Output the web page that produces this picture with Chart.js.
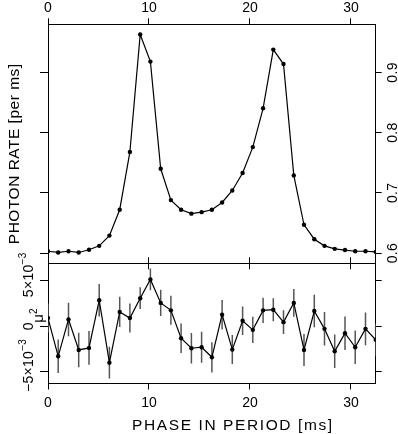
<!DOCTYPE html>
<html><head><meta charset="utf-8">
<script src="https://cdn.jsdelivr.net/npm/chart.js@4"></script>
<style>
html,body{margin:0;padding:0;background:#fff;width:398px;height:434px;overflow:hidden}
#wrap{position:relative;width:398px;height:434px}
canvas{position:absolute;left:0}
#cTop{top:0}
#cBot{top:245px}
</style></head><body>
<div id="wrap">
<canvas id="cTop" width="398" height="275"></canvas>
<canvas id="cBot" width="398" height="189"></canvas>
</div>
<script>
const phase = [0, 1.01, 2.03, 3.04, 4.06, 5.07, 6.08, 7.10, 8.11, 9.13, 10.14, 11.16, 12.17, 13.18, 14.20, 15.21, 16.23, 17.24, 18.25, 19.27, 20.28, 21.30, 22.31, 23.32, 24.34, 25.35, 26.37, 27.38, 28.39, 29.41, 30.42, 31.44, 32.45];
const photonRate = [0.603, 0.601, 0.603, 0.601, 0.6055, 0.612, 0.629, 0.672, 0.768, 0.963, 0.918, 0.740, 0.688, 0.672, 0.6655, 0.668, 0.672, 0.684, 0.704, 0.733, 0.776, 0.8405, 0.938, 0.914, 0.729, 0.647, 0.623, 0.612, 0.607, 0.605, 0.603, 0.603, 0.602];
// mu^2 in units of 10^-3
const muSq = [0.89, -3.33, 0.74, -2.63, -2.40, 2.86, -4.03, 1.56, 0.89, 3.08, 5.15, 2.56, 1.74, -1.33, -2.44, -2.33, -3.44, 1.26, -2.59, 0.60, -0.41, 1.74, 1.81, 0.44, 2.56, -2.63, 1.67, -0.30, -2.78, -0.78, -2.33, -0.30, -1.51];
const muErr = [1.6, 1.85, 1.85, 1.9, 1.85, 1.8, 1.76, 1.67, 1.6, 1.2, 1.2, 1.45, 1.6, 1.63, 1.68, 1.7, 1.67, 1.63, 1.6, 1.57, 1.45, 1.39, 1.26, 1.3, 1.54, 1.76, 1.8, 1.85, 1.85, 1.85, 1.85, 1.8, 1.8];
const phaseTicks = [0, 10, 20, 30];
const phaseTickLabels = ['0', '10', '20', '30'];
const rateTicks = [0.6, 0.7, 0.8, 0.9];
const rateTickLabels = ['0.6', '0.7', '0.8', '0.9'];
const muTicks = [-5, 0, 5];
const muTickBase = ['\u22125\u00d710', '0', '5\u00d710'];
const muTickExp = ['\u22123', '', '\u22123'];
const xTitle = 'PHASE IN PERIOD [ms]';
const yTopTitle = 'PHOTON RATE [per ms]';
const yBotTitleBase = '\u03bc';
const yBotTitleExp = '2';

const FONT = '"Liberation Sans", Arial, Helvetica, sans-serif';
const fixH = h => s => { s.height = h; };
const fixW = w => s => { s.width = w; };
const setTicks = vals => s => { s.ticks = vals.map(v => ({value: v})); };

function axis(o) {
  return {
    type: 'linear',
    axis: o.axis,
    position: o.position,
    min: o.min, max: o.max,
    border: {display: true, color: '#000', width: 1},
    grid: {display: true, drawOnChartArea: false, drawTicks: true, tickLength: o.tickLength || 6, color: '#000', lineWidth: 1},
    ticks: {
      display: !!o.labels, autoSkip: false, color: '#000',
      font: {family: FONT, size: 14},
      padding: o.padding || 0,
      callback: o.labels ? ((v, i) => o.labels[i]) : undefined
    },
    afterBuildTicks: setTicks(o.ticks),
    afterFit: o.axis === 'x' ? fixH(o.size) : fixW(o.size)
  };
}

// draw text rotated by -90deg (reads bottom to top); (x,y) = baseline x, anchor y
function rotText(ctx, text, x, y, size, align, spacing) {
  ctx.save();
  ctx.translate(x, y);
  ctx.rotate(-Math.PI / 2);
  ctx.font = size + 'px ' + FONT;
  ctx.letterSpacing = (spacing || 0) + 'px';
  ctx.textAlign = align || 'center';
  ctx.textBaseline = 'alphabetic';
  ctx.fillStyle = '#000';
  ctx.fillText(text, 0, 0);
  ctx.restore();
}

const common = {
  responsive: false, animation: false, events: [],
  plugins: {legend: {display: false}, tooltip: {enabled: false}},
  layout: {padding: 0}
};

const XMIN = 0, XMAX = 32.45;

const topLabels = {
  id: 'topLabels',
  afterDraw(chart) {
    const ctx = chart.ctx, a = chart.chartArea;
    const yr = chart.scales.yR;
    yr.ticks.forEach((t, i) => {
      rotText(ctx, rateTickLabels[i], yr.left + 21, yr.getPixelForValue(t.value), 14, 'center', 0.3);
    });
    rotText(ctx, yTopTitle, 19, (a.top + a.bottom) / 2 + 10, 15.5, 'center', 0.5);
  }
};

new Chart(document.getElementById('cTop'), {
  type: 'line',
  data: {datasets: [{
    data: phase.map((p, i) => ({x: p, y: photonRate[i]})),
    xAxisID: 'x', yAxisID: 'y',
    borderColor: '#000', borderWidth: 1.2, tension: 0,
    pointRadius: 2.2, pointBackgroundColor: '#000', pointBorderWidth: 0
  }]},
  plugins: [topLabels],
  options: Object.assign({}, common, {
    scales: {
      x: axis({axis: 'x', position: 'bottom', min: XMIN, max: XMAX, ticks: phaseTicks, size: 11.7}),
      xTop: axis({axis: 'x', position: 'top', min: XMIN, max: XMAX, ticks: phaseTicks, labels: phaseTickLabels, padding: 2, size: 24.3}),
      y: axis({axis: 'y', position: 'left', min: 0.583, max: 0.98, ticks: rateTicks, size: 48, tickLength: 8}),
      yR: axis({axis: 'y', position: 'right', min: 0.583, max: 0.98, ticks: rateTicks, size: 22.3})
    }
  })
});

const errorBars = {
  id: 'errorBars',
  beforeDatasetsDraw(chart) {
    const {ctx, chartArea: a} = chart;
    const xs = chart.scales.x, ys = chart.scales.y;
    ctx.save();
    ctx.beginPath(); ctx.rect(a.left, a.top, a.right - a.left, a.bottom - a.top); ctx.clip();
    ctx.strokeStyle = '#555'; ctx.lineWidth = 1.5;
    ctx.beginPath();
    phase.forEach((p, i) => {
      const px = xs.getPixelForValue(p);
      ctx.moveTo(px, ys.getPixelForValue(muSq[i] - muErr[i]));
      ctx.lineTo(px, ys.getPixelForValue(muSq[i] + muErr[i]));
    });
    ctx.stroke();
    ctx.restore();
  }
};

const botLabels = {
  id: 'botLabels',
  afterDraw(chart) {
    const ctx = chart.ctx, a = chart.chartArea;
    const ys = chart.scales.y;
    ys.ticks.forEach((t, i) => {
      const py = ys.getPixelForValue(t.value);
      rotText(ctx, muTickBase[i], 33, py, 14, 'center', 0.3);
      if (muTickExp[i]) {
        ctx.save();
        ctx.font = '14px ' + FONT;
        ctx.letterSpacing = '0.3px';
        const w = ctx.measureText(muTickBase[i]).width;
        ctx.restore();
        rotText(ctx, muTickExp[i], 25.5, py - w / 2, 10, 'left', 0.3);
      }
    });
    // mu^2 axis label
    const cy = (a.top + a.bottom) / 2 - 5;
    ctx.save();
    ctx.font = '15px ' + FONT;
    const wm = ctx.measureText(yBotTitleBase).width;
    ctx.restore();
    rotText(ctx, yBotTitleBase, 42.5, cy, 15, 'center', 0);
    rotText(ctx, yBotTitleExp, 36.5, cy - wm / 2, 10, 'left', 0);
    // x axis title
    ctx.save();
    ctx.font = '15.5px ' + FONT;
    ctx.letterSpacing = '1.6px';
    ctx.fillStyle = '#000';
    ctx.textAlign = 'center';
    ctx.textBaseline = 'alphabetic';
    ctx.fillText(xTitle, (a.left + a.right) / 2 + 21, chart.height - 4);
    ctx.restore();
  }
};

new Chart(document.getElementById('cBot'), {
  type: 'line',
  data: {datasets: [{
    data: phase.map((p, i) => ({x: p, y: muSq[i]})),
    xAxisID: 'x', yAxisID: 'y',
    borderColor: '#000', borderWidth: 1.2, tension: 0,
    pointRadius: 2.2, pointBackgroundColor: '#000', pointBorderWidth: 0
  }]},
  plugins: [errorBars, botLabels],
  options: Object.assign({}, common, {
    scales: {
      x: axis({axis: 'x', position: 'bottom', min: XMIN, max: XMAX, ticks: phaseTicks, labels: phaseTickLabels, padding: 5, size: 50.5}),
      xTop: axis({axis: 'x', position: 'top', min: XMIN, max: XMAX, ticks: phaseTicks, size: 18.3}),
      y: axis({axis: 'y', position: 'left', min: -6.33, max: 6.93, ticks: muTicks, size: 48, tickLength: 8}),
      yR: axis({axis: 'y', position: 'right', min: -6.33, max: 6.93, ticks: muTicks, size: 22.3})
    }
  })
});
</script>
</body></html>
